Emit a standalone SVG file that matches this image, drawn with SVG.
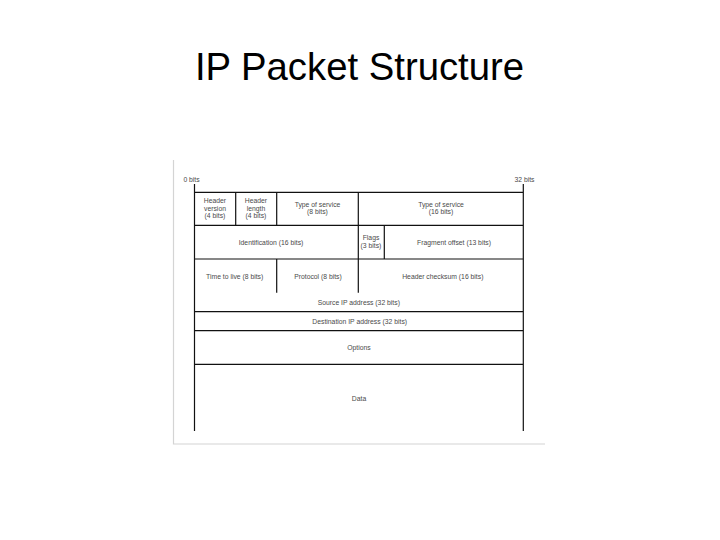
<svg xmlns="http://www.w3.org/2000/svg" width="720" height="540" viewBox="0 0 720 540">
<style>
.t{font-family:"Liberation Sans",Arial,sans-serif;font-size:6.8px;fill:#4a4a4a;text-anchor:middle;dominant-baseline:central}
.ln{stroke:#111;stroke-width:1.2;fill:none}
.fr{stroke:#d4d4d4;stroke-width:1.2;fill:none}
</style>
<rect width="720" height="540" fill="#fff"/>
<text x="359.5" y="79.5" font-family="Liberation Sans, Arial, sans-serif" font-size="38.3" fill="#000" text-anchor="middle">IP Packet Structure</text>
<g id="frame"><path class="fr" d="M173.5 160V444H545"/></g>
<g id="connectors">
<path class="ln" d="M194.5 184V431M523.3 184V431M194.5 192.3H523.3M194.5 225.3H523.3M194.5 259H523.3M194.5 311.7H523.3M194.5 330.7H523.3M194.5 364.3H523.3"/>
<path class="ln" d="M235.7 192.3V225.3M276.7 192.3V225.3M358.3 192.3V225.3M358.3 225.3V259M384.3 225.3V259M276.7 259V292.7M358.3 259V292.7"/>
</g>
<g id="scale"><text class="t" x="191.5" y="179">0 bits</text><text class="t" x="524.5" y="179">32 bits</text></g>
<g id="hv"><text class="t" x="215" y="200.7">Header</text><text class="t" x="215" y="208.2">version</text><text class="t" x="215" y="215.7">(4 bits)</text></g>
<g id="hl"><text class="t" x="256" y="200.7">Header</text><text class="t" x="256" y="208.2">length</text><text class="t" x="256" y="215.7">(4 bits)</text></g>
<g id="tos8"><text class="t" x="317.5" y="204.3">Type of service</text><text class="t" x="317.5" y="211.7">(8 bits)</text></g>
<g id="tos16"><text class="t" x="441" y="204.3">Type of service</text><text class="t" x="441" y="211.7">(16 bits)</text></g>
<g id="ident"><text class="t" x="271" y="242.3">Identification (16 bits)</text></g>
<g id="flags"><text class="t" x="371" y="237.5">Flags</text><text class="t" x="371" y="245.7">(3 bits)</text></g>
<g id="frag"><text class="t" x="454" y="242.3">Fragment offset (13 bits)</text></g>
<g id="ttl"><text class="t" x="234.7" y="276.7">Time to live (8 bits)</text></g>
<g id="proto"><text class="t" x="318" y="276.7">Protocol (8 bits)</text></g>
<g id="chk"><text class="t" x="442.8" y="276.7">Header checksum (16 bits)</text></g>
<g id="src"><text class="t" x="358.8" y="302.7">Source IP address (32 bits)</text></g>
<g id="dst"><text class="t" x="359.7" y="321.7">Destination IP address (32 bits)</text></g>
<g id="opt"><text class="t" x="359" y="347">Options</text></g>
<g id="data"><text class="t" x="359" y="398.3">Data</text></g>
</svg>
